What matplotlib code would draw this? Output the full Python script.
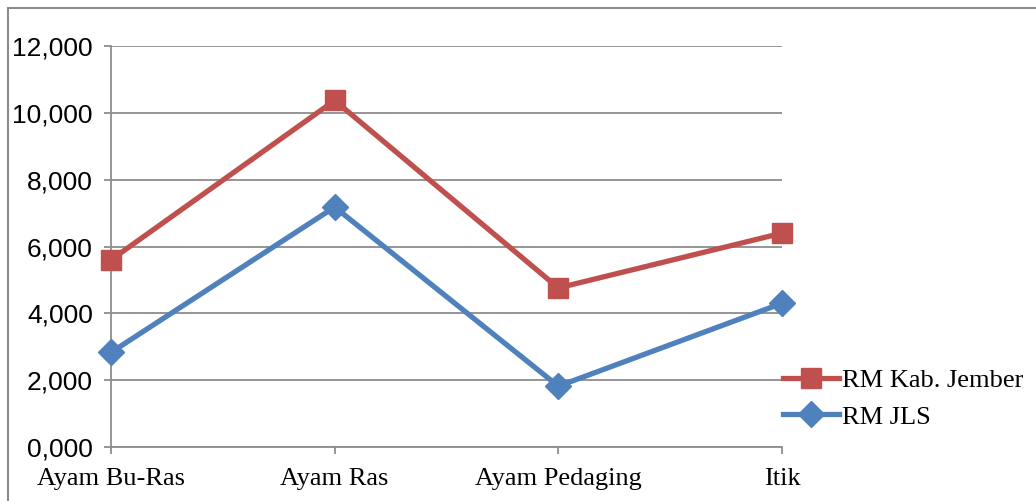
import matplotlib.pyplot as plt
from matplotlib.patches import Rectangle

categories = ["Ayam Bu-Ras", "Ayam Ras", "Ayam Pedaging", "Itik"]
rm_jember = [5.6, 10.37, 4.76, 6.4]
rm_jls = [2.83, 7.18, 1.82, 4.3]
y_ticks = [0, 2, 4, 6, 8, 10, 12]

fig = plt.figure(figsize=(10.36, 5.01), dpi=100)
ax = fig.add_axes([111 / 1036, 1 - 447 / 501, (782 - 111) / 1036, (447 - 46) / 501])

# outer chart border (only top/left visible in the reference)
fig.patches.append(Rectangle((8 / 1036, -0.1), 1.2, 1 - 8 / 501 + 0.1,
                             transform=fig.transFigure, fill=False,
                             edgecolor="#8c8c8c", linewidth=1.5))

x = range(len(categories))
ax.plot(x, rm_jember, color="#C0504D", linewidth=3.8, marker="s",
        markersize=14, label="RM Kab. Jember", clip_on=False, zorder=3)
ax.plot(x, rm_jls, color="#4F81BD", linewidth=3.8, marker="D",
        markersize=13, label="RM JLS", clip_on=False, zorder=3)

ax.set_xlim(0, 3)
ax.set_ylim(0, 12)
ax.set_yticks(y_ticks)
ax.set_yticklabels(["%d,000" % v for v in y_ticks], family="Liberation Sans", fontsize=19)
ax.set_xticks(list(x))
ax.set_xticklabels(categories, family="Liberation Serif", fontsize=19)
ax.grid(axis="y", color="#8c8c8c", linewidth=1.3)
ax.set_axisbelow(True)
for s in ["top", "right"]:
    ax.spines[s].set_visible(False)
for s in ["left", "bottom"]:
    ax.spines[s].set_color("#8c8c8c")
    ax.spines[s].set_linewidth(1.3)
ax.tick_params(axis="both", color="#8c8c8c", width=1.3, length=5)
ax.tick_params(axis="y", pad=8)
ax.tick_params(axis="x", pad=10)

ax.legend(loc="upper left", bbox_to_anchor=(772 / 1036, 1 - 358 / 501),
          bbox_transform=fig.transFigure, frameon=False,
          prop={"family": "Liberation Serif", "size": 19},
          handlelength=2.15, handletextpad=0.1, labelspacing=0.5,
          borderaxespad=0)

fig.savefig("out.png", dpi=100)
